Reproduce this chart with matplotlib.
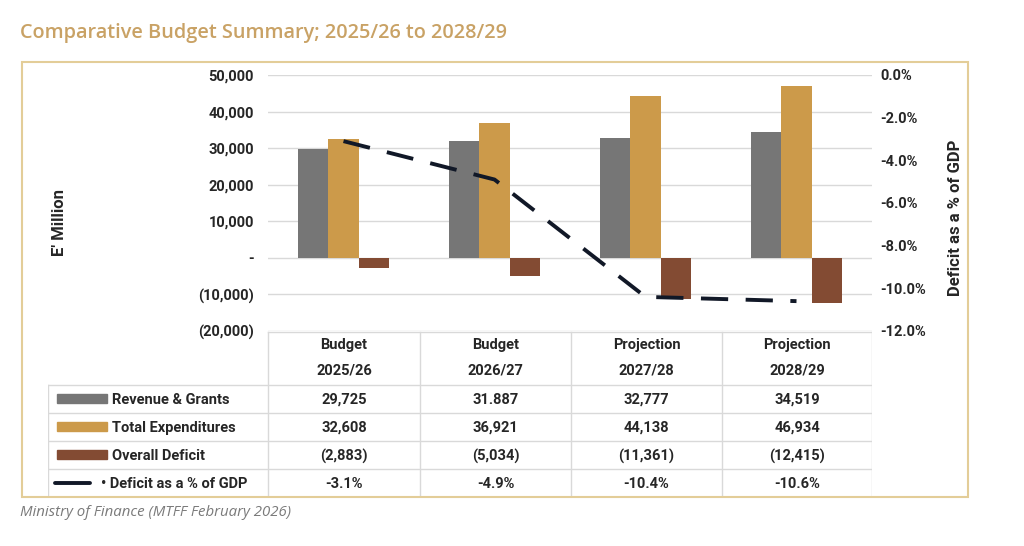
import numpy as np
import matplotlib.pyplot as plt
from matplotlib.patches import Rectangle

# --- data ---
years = ['2025/26', '2026/27', '2027/28', '2028/29']
stages = ['Budget', 'Budget', 'Projection', 'Projection']
revenue = [29725, 31887, 32777, 34519]
expenditure = [32608, 36921, 44138, 46934]
deficit = [-2883, -5034, -11361, -12415]
deficit_pct = [-3.1, -4.9, -10.4, -10.6]
revenue_text = ['29,725', '31.887', '32,777', '34,519']  # as printed in the source

series_names = ['Revenue & Grants', 'Total Expenditures', 'Overall Deficit', 'Deficit as a % of GDP']

GREY = '#767676'
GOLD = '#cc9a4a'
BROWN = '#834b33'
LINE = '#111827'
GRID = '#d9d9d9'
TXT = '#262626'

plt.rcParams['font.family'] = ['Roboto', 'DejaVu Sans']

W, H = 1024, 546
fig = plt.figure(figsize=(W / 100, H / 100), dpi=100)


def fx(px):
    return px / W


def fy(py):
    return 1 - py / H


# --- main chart ---
ax = fig.add_axes([fx(268), fy(331), fx(872 - 268), fy(75) - fy(331)])
x = np.arange(len(years))
bw = 0.2
ax.bar(x - bw, revenue, bw, color=GREY, zorder=2)
ax.bar(x, expenditure, bw, color=GOLD, zorder=2)
ax.bar(x + bw, deficit, bw, color=BROWN, zorder=2)
ax.set_xlim(-0.5, 3.5)
ax.set_ylim(-20000, 50000)
ax.set_yticks(np.arange(-20000, 50001, 10000))


def money(v):
    if v == 0:
        return '-'
    if v < 0:
        return '({:,.0f})'.format(-v)
    return '{:,.0f}'.format(v)


ax.set_yticklabels([money(v) for v in ax.get_yticks()], fontsize=10.5,
                   fontweight='bold', color=TXT)
ax.set_xticks([])
ax.tick_params(axis='y', length=0, pad=10)
ax.grid(axis='y', color=GRID, linewidth=1, zorder=0)
for s in ax.spines.values():
    s.set_visible(False)

ax2 = ax.twinx()
ax2.plot(x, deficit_pct, color=LINE, linewidth=2.8, dashes=(7, 4.5), zorder=3)
ax2.set_ylim(-12, 0)
ax2.set_yticks(np.arange(-12, 0.1, 2))
ax2.set_yticklabels(['{:.1f}%'.format(v) if v != 0 else '0.0%' for v in ax2.get_yticks()],
                    fontsize=10.5, fontweight='bold', color=TXT)
ax2.tick_params(axis='y', length=0, pad=6)
for s in ax2.spines.values():
    s.set_visible(False)

fig.text(fx(60), fy(222), "E' Million", rotation=90, ha='center', va='center',
         fontsize=12, fontweight='bold', color=TXT)
fig.text(fx(955), fy(218), 'Deficit as a % of GDP', rotation=90, ha='center', va='center',
         fontsize=12, fontweight='bold', color=TXT)

# --- data table ---
tx = fig.add_axes([fx(48), fy(497), fx(872 - 48), fy(331) - fy(497)])
tx.set_xlim(48, 872)
tx.set_ylim(497, 331)
tx.axis('off')

col_edges = [268, 420, 571, 722, 872]
row_edges = [385, 413, 441, 469, 497]
lc = dict(color=GRID, linewidth=1)
tx.plot([268, 872], [332, 332], **lc)
for ry in row_edges[:-1]:
    tx.plot([48, 872], [ry, ry], **lc)
for cx in col_edges:
    tx.plot([cx, cx], [332, 497], **lc)
tx.plot([48, 48], [385, 497], **lc)

centers = [(a + b) / 2 for a, b in zip(col_edges[:-1], col_edges[1:])]
for c, st, yr in zip(centers, stages, years):
    tx.text(c, 345, st, ha='center', va='center', fontsize=10.5, fontweight='bold', color=TXT)
    tx.text(c, 371, yr, ha='center', va='center', fontsize=10.5, fontweight='bold', color=TXT)

rows = [
    revenue_text,
    ['{:,.0f}'.format(v) for v in expenditure],
    ['({:,.0f})'.format(-v) for v in deficit],
    ['{:.1f}%'.format(v) for v in deficit_pct],
]
row_mid = [(a + b) / 2 for a, b in zip(row_edges[:-1], row_edges[1:])]
for ym, vals in zip(row_mid, rows):
    for c, v in zip(centers, vals):
        tx.text(c, ym + 1, v, ha='center', va='center', fontsize=10.5, fontweight='bold', color=TXT)

for ym, name, col in zip(row_mid, series_names, [GREY, GOLD, BROWN, None]):
    if col is not None:
        tx.add_patch(Rectangle((57, ym - 4.5), 50, 9, color=col))
        tx.text(112, ym + 1, name, ha='left', va='center', fontsize=10.5, fontweight='bold', color=TXT)
    else:
        tx.plot([55, 90], [ym, ym], color=LINE, linewidth=2.8, solid_capstyle='round')
        tx.text(101, ym + 1, '\u2022 ' + name, ha='left', va='center', fontsize=10.5,
                fontweight='bold', color=TXT)

# --- frame, title, source ---
fig.patches.append(Rectangle((fx(22), fy(497)), fx(968 - 22), fy(62) - fy(497),
                             transform=fig.transFigure, fill=False,
                             edgecolor='#e3cd98', linewidth=1.5))
fig.text(fx(20), fy(33), 'Comparative Budget Summary; 2025/26 to 2028/29', ha='left', va='center',
         fontsize=14.3, fontweight='semibold', color='#c9a265', family=['Open Sans', 'DejaVu Sans'])
fig.text(fx(20), fy(512), 'Ministry of Finance (MTFF February 2026)', ha='left', va='center',
         fontsize=10.8, style='italic', color='#7a7a7a', family=['Open Sans', 'DejaVu Sans'])

fig.savefig('out.png', dpi=100)
